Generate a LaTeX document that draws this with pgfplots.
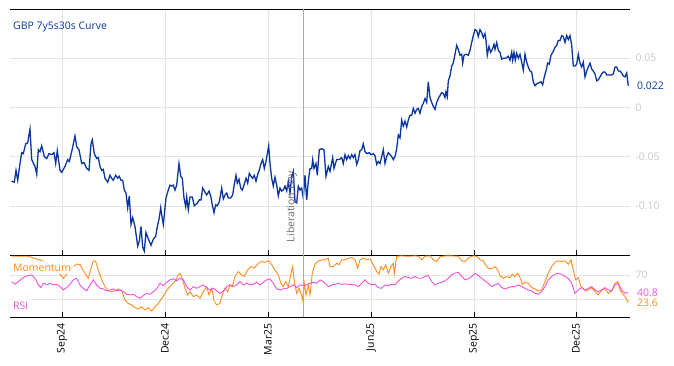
\documentclass[border=0pt]{standalone}
\usepackage{fontspec}
\setmainfont{Open Sans}
\usepackage{pgfplots}
\pgfplotsset{compat=1.18}
\definecolor{curve}{RGB}{10,53,160}
\definecolor{momc}{RGB}{255,140,26}
\definecolor{rsic}{RGB}{240,80,220}
\definecolor{gridc}{RGB}{229,229,229}
\definecolor{ticklab}{RGB}{200,200,200}
\definecolor{libline}{RGB}{170,170,170}
\definecolor{libtext}{RGB}{110,110,110}
\newcommand{\lblfont}{\fontsize{10.5}{12}\selectfont}
\pgfplotsset{panel/.style={
  scale only axis, width=620bp, xmin=10, xmax=630,
  separate axis lines,
  x axis line style={black, line width=0.8pt},
  y axis line style={draw=none},
  xtick={62,165,268,371,474,576},
  xtick pos=bottom, tick align=inside, major tick length=5bp,
  xtick style={black, line width=0.6pt},
  ytick style={draw=none},
  grid=major, major grid style={gridc, line width=0.5pt},
  yticklabel pos=right,
  tick label style={font=\lblfont},
  yticklabel style={text=ticklab, anchor=west, xshift=2bp},
  clip mode=individual,
}}
\begin{document}
\begin{tikzpicture}
\path[use as bounding box] (0,0) rectangle (674bp,366bp);
\begin{axis}[panel, at={(10bp,111bp)}, anchor=south west, height=246bp,
  ymin=-0.15, ymax=0.10,
  ytick={-0.10,-0.05,0,0.05}, yticklabels={-0.10,-0.05,0,0.05},
  xticklabels=\empty]
\addplot[curve, line width=1.3pt] coordinates {
(11.7,-0.075)(14.3,-0.076)(16,-0.064)(17.7,-0.074)(20,-0.057)(21.7,-0.046)(23.3,-0.047)(25.7,-0.037)(27.7,-0.036)(30,-0.022)(31.7,-0.053)(35,-0.060)(36.7,-0.068)(38.3,-0.043)(40,-0.045)(41.7,-0.039)(44.3,-0.050)(46.7,-0.052)(49,-0.047)(51.7,-0.048)(54,-0.046)(55.7,-0.057)(57.3,-0.044)(60,-0.064)(61.7,-0.066)(65,-0.060)(67.7,-0.053)(69.3,-0.055)(71.7,-0.045)(75,-0.029)(76.7,-0.040)(79,-0.043)(81.7,-0.057)(84,-0.056)(86.7,-0.062)(89,-0.064)(91,-0.037)(92.3,-0.033)(94.3,-0.047)(96.7,-0.052)(98.3,-0.051)(100,-0.060)(101.7,-0.064)(103.3,-0.063)(105,-0.072)(107.7,-0.076)(110,-0.069)(111.7,-0.072)(113.3,-0.074)(115.7,-0.069)(117.7,-0.072)(119.3,-0.070)(121,-0.074)(122.7,-0.074)(124.3,-0.084)(126,-0.087)(127.7,-0.102)(129.3,-0.090)(131,-0.119)(132.7,-0.112)(135,-0.121)(137.7,-0.141)(139.3,-0.136)(141,-0.121)(142.7,-0.142)(144.3,-0.146)(146,-0.127)(147.7,-0.132)(149.3,-0.136)(151,-0.140)(153.3,-0.134)(155.7,-0.131)(157.7,-0.119)(159,-0.114)(160.7,-0.102)(161.7,-0.109)(163.3,-0.119)(166,-0.092)(168.3,-0.084)(170,-0.079)(171.7,-0.080)(173.3,-0.079)(175,-0.084)(176.7,-0.079)(179,-0.057)(180.7,-0.070)(182.3,-0.072)(184,-0.092)(185.7,-0.101)(186.7,-0.091)(188.3,-0.104)(190,-0.091)(192.3,-0.091)(194.3,-0.100)(196.7,-0.098)(199.3,-0.094)(201,-0.094)(202.7,-0.082)(205,-0.086)(206.7,-0.089)(209,-0.085)(210.7,-0.090)(212.3,-0.099)(214,-0.107)(215.7,-0.099)(217.3,-0.100)(219.3,-0.096)(221.7,-0.082)(223.3,-0.093)(225,-0.089)(226.7,-0.087)(228.3,-0.092)(230.7,-0.092)(232.7,-0.089)(234,-0.080)(236,-0.069)(237.3,-0.077)(239,-0.073)(240.7,-0.082)(242.3,-0.084)(244,-0.079)(246,-0.072)(247.7,-0.077)(249.3,-0.067)(251,-0.070)(252.7,-0.072)(254.3,-0.069)(256,-0.075)(257.7,-0.068)(259.3,-0.064)(261,-0.057)(262.7,-0.053)(264.3,-0.062)(266,-0.055)(267.7,-0.045)(268.7,-0.039)(270,-0.057)(271.7,-0.072)(273.3,-0.080)(275,-0.071)(276.7,-0.079)(278.3,-0.090)(280,-0.082)(281.7,-0.085)(283.3,-0.084)(285,-0.080)(286.7,-0.085)(288.3,-0.075)(290,-0.087)(291.7,-0.070)(293.3,-0.065)(295,-0.096)(296.7,-0.097)(298.3,-0.080)(300,-0.084)(301.7,-0.082)(303.3,-0.092)(305,-0.069)(306.7,-0.094)(308.3,-0.075)(310,-0.062)(311.7,-0.062)(312.7,-0.053)(314,-0.062)(316,-0.057)(317.3,-0.069)(319.3,-0.043)(321.7,-0.042)(324,-0.043)(326,-0.070)(328.3,-0.060)(330,-0.065)(332.7,-0.051)(334,-0.062)(336.7,-0.053)(339.3,-0.053)(341.7,-0.051)(343.3,-0.057)(345,-0.048)(346.7,-0.053)(348.3,-0.049)(350,-0.052)(351.7,-0.048)(353.3,-0.051)(355,-0.048)(356.7,-0.058)(358.3,-0.053)(360,-0.044)(361.7,-0.043)(363.3,-0.037)(365,-0.045)(366.7,-0.047)(369,-0.046)(371,-0.048)(373.3,-0.047)(375,-0.049)(376.7,-0.058)(378.3,-0.055)(380,-0.057)(381.7,-0.050)(383.3,-0.043)(385,-0.057)(386.7,-0.050)(388.3,-0.046)(390,-0.048)(391.7,-0.050)(393.3,-0.053)(395,-0.050)(396.7,-0.042)(398.3,-0.028)(400,-0.031)(401.7,-0.013)(403.3,-0.019)(405,-0.014)(406.7,-0.020)(408.3,-0.013)(410,-0.008)(411.7,-0.008)(413.3,-0.001)(415,-0.006)(416.7,-0.002)(418.3,-0.001)(420,-0.006)(421.7,0.001)(423.3,0.004)(425,0.009)(426.7,0.005)(428.3,0.026)(430,0.010)(431.7,0.005)(433.3,0.001)(435,-0.002)(436.7,0.005)(438.3,0.009)(440,0.012)(441.7,0.015)(443.3,0.014)(445,0.010)(446,0.016)(447.3,0.011)(448.3,0.027)(450,0.032)(451.7,0.042)(453.3,0.045)(455,0.054)(456.7,0.063)(458.3,0.059)(460,0.053)(461.7,0.054)(462.7,0.045)(464,0.053)(466,0.054)(468.3,0.053)(470,0.058)(471.7,0.066)(473.3,0.073)(475,0.079)(476.7,0.078)(478.3,0.072)(480,0.079)(481.7,0.076)(483.3,0.071)(485,0.075)(486,0.068)(487.3,0.053)(489,0.062)(490.7,0.056)(492.3,0.059)(494,0.064)(495,0.059)(496.7,0.066)(498.3,0.058)(500,0.056)(501.7,0.049)(503.3,0.050)(505.7,0.050)(508.3,0.052)(510,0.048)(511.7,0.056)(512.7,0.048)(514,0.056)(515.3,0.048)(516.7,0.055)(518.3,0.050)(520,0.054)(521.7,0.046)(523.3,0.038)(525,0.054)(526.7,0.046)(528.3,0.041)(530,0.037)(531.7,0.036)(533.3,0.026)(535,0.022)(536.7,0.024)(539,0.025)(541,0.026)(542.7,0.023)(544.3,0.031)(546,0.037)(547.7,0.045)(549.3,0.044)(551,0.053)(553.3,0.057)(555,0.061)(556.7,0.063)(558.3,0.068)(560,0.068)(561.7,0.073)(563.3,0.072)(565,0.066)(566.7,0.073)(568.3,0.069)(570,0.073)(571.7,0.063)(573.3,0.042)(575,0.042)(576.7,0.044)(578.3,0.054)(580,0.045)(581.7,0.041)(583.3,0.046)(585,0.031)(586.7,0.037)(588.3,0.041)(590,0.045)(591.7,0.039)(593.3,0.037)(595,0.034)(596.7,0.027)(598.3,0.028)(600,0.031)(601.7,0.034)(603.3,0.036)(605,0.036)(606.7,0.033)(609.3,0.033)(611.7,0.033)(613.3,0.034)(615,0.041)(616.7,0.041)(618.3,0.037)(620,0.037)(621.7,0.035)(623.3,0.032)(625,0.031)(626.7,0.035)(628.3,0.022)};
\draw[libline, line width=0.6pt] (axis cs:303,-0.15) -- (axis cs:303,0.10);
\node[rotate=90, anchor=south west, text=libtext, font=\lblfont, inner sep=0pt] at (axis cs:297,-0.137) {Liberation Day};
\node[anchor=west, text=curve, font=\lblfont, inner sep=0pt] at (axis cs:13,0.082) {GBP 7y5s30s Curve};
\node[anchor=west, text=curve, font=\lblfont, inner sep=0pt] at (axis cs:637,0.022) {0.022};
\end{axis}
\begin{axis}[panel, at={(10bp,49bp)}, anchor=south west, height=62bp,
  ymin=0, ymax=103,
  ytick={30,70}, yticklabels={,70},
  xticklabels={Sep24,Dec24,Mar25,Jun25,Sep25,Dec25},
  xticklabel shift=3bp,
  xticklabel style={rotate=90, anchor=east, text=black}]
\addplot[momc, line width=0.9pt] coordinates {
(11.7,101)(20,101)(28,101)(30,100)(35,97)(41.7,94)(48.3,88)(55,80)(60,71)(63.3,64)(66.7,71)(71.7,82)(76.7,88)(80,87)(82.3,80)(85,72.7)(88.3,64.3)(91,81)(93.3,93.3)(95.7,92.2)(98.3,78.3)(101.7,61.7)(105,50.5)(108.3,43.3)(111.7,42.2)(115,43.3)(118.3,46.7)(121.7,43.3)(125,28.3)(128.3,22.7)(131.7,20)(135,15.5)(138.3,13.3)(141.7,17.2)(145,11.7)(148.3,15.5)(151.7,10)(155,17.2)(158.3,22.7)(161.7,31)(165,39.3)(168.3,47.7)(171.7,53.3)(175,58.8)(178.3,70)(180,72.7)(182.3,64.3)(185,47.7)(187.7,36.7)(190,42.2)(193.3,33.8)(196.7,36.7)(200,31)(203.3,42.2)(206.7,50.5)(209,36.7)(211.7,47.7)(214.3,25.5)(216.7,20)(220,22.7)(222.3,36.7)(225,47.7)(227.7,42.2)(230,53.3)(232.3,50.5)(235,67.2)(238.3,75.5)(241.7,70)(244.3,67.2)(247.7,78.3)(251,83.8)(254.3,81)(258.3,89.3)(261.7,92.2)(265,91)(269,93.3)(271.7,86.7)(275,78.3)(278.3,70)(281,56)(283.3,50.5)(285.7,58.8)(288.3,50.5)(291,72.7)(292.7,83.8)(294.3,58.8)(296.7,39.3)(299,47.7)(301,39.3)(302.7,28.3)(304.3,56)(306,36.7)(308.3,53.3)(310,36.7)(312.3,72.7)(315,88)(318.3,93)(321.7,95)(325,95)(328.3,97.7)(330,83.8)(333.3,83.8)(336.7,89.3)(339,86.7)(341.7,95)(345,95)(348.3,97.7)(351.7,98.8)(355,95)(357.7,81)(360,95)(363.3,97.7)(366.7,95)(370,96.7)(373.3,86.7)(376.7,75.5)(379,71)(381,83.8)(383.3,78.3)(385.7,86.7)(388.3,72.7)(391,83.8)(393.3,89.3)(394.3,71)(396.7,101)(401.7,101.5)(408.3,101)(415,101.5)(418.3,101)(421.7,95)(425,101)(430,101.5)(433.3,95)(436.7,92.2)(440,100)(445,101.5)(451.7,101.5)(458.3,101)(461.7,93.3)(465,92.2)(468.3,97.7)(471.7,101)(475,101.5)(477.7,100)(480,95)(483.3,93.3)(485.7,86.7)(488.3,81)(491.7,80)(495,83.8)(497.7,78.3)(500,68.8)(503.3,64.3)(506.7,67.2)(510,65.5)(512.3,71)(515,67.2)(517.7,72.7)(520,65.5)(522.3,54.3)(525,57.7)(528.3,56)(531.7,48.8)(535,46.7)(538.3,43.3)(541.7,45)(545,58.8)(548.3,72.7)(551.7,83.8)(555,91)(558.3,93.3)(561.7,92.2)(565,93.3)(568.3,87.7)(571,95)(573.3,78.3)(575.7,61.7)(578.3,65.5)(581,50.5)(583.3,46.7)(585.7,43.3)(588.3,45)(591.7,48.8)(595,42.2)(598.3,36.7)(601.7,45)(605,46.7)(608.3,39.3)(611.7,43.3)(615,56)(617.7,58.8)(620,45)(622.3,39.3)(625,33.8)(628.3,23.6)};
\addplot[rsic, line width=0.9pt] coordinates {
(11.7,58.8)(15,54.3)(18.3,58.8)(21.7,63.3)(25,67.2)(28.3,68.8)(31.7,70)(35,64.3)(38.3,53.3)(41,48.8)(43.3,56)(46.7,53.3)(50,56)(53.3,53.3)(56.7,54.3)(60,50.5)(63.3,45)(66.7,48.8)(70,54.3)(73.3,61.7)(76.7,64.3)(80,53.3)(83.3,47.7)(86.7,43.3)(90,53.3)(93.3,61.7)(96.7,53.3)(100,47.7)(103.3,46.7)(106.7,43.3)(110,45)(113.3,46.7)(116.7,43.3)(120,45)(123.3,42.2)(126.7,37.7)(130,36.7)(133.3,37.7)(136.7,33.8)(140,31)(143.3,35.5)(146.7,39.3)(150,37.7)(153.3,42.2)(156.7,46.7)(160,56)(163.3,52.2)(166.7,57.7)(170,61.7)(173.3,63.3)(176.7,60)(180,64.3)(183.3,61.7)(186.7,50.5)(190,45)(193.3,50.5)(196.7,47.7)(200,50.5)(203.3,53.3)(206.7,48.8)(210,45)(213.3,47.7)(216.7,43.3)(220,39.3)(223.3,43.3)(226.7,50.5)(230,53.3)(233.3,50.5)(236.7,53.3)(240,58.8)(243.3,53.3)(246.7,56)(250,53.3)(253.3,54.3)(256.7,57.7)(260,53.3)(263.3,57.7)(266.7,61.7)(270,63.3)(273.3,56)(276.7,46.7)(280,45)(283.3,46.7)(286.7,47.7)(290,50.5)(293.3,53.3)(296.7,48.8)(300,53.3)(303.3,52.2)(306.7,53.3)(310,56)(313.3,57.7)(316.7,56)(320,61.7)(323.3,58.8)(325,56)(328.3,50.5)(331.7,53.3)(335,54.3)(338.3,56)(341.7,54.3)(345,55)(348.3,54.3)(351.7,54.3)(355,53.3)(358.3,50.5)(361.7,56)(365,61.7)(368.3,56)(371.7,53.3)(375,54.3)(378.3,48.8)(381.7,47.7)(385,53.3)(388.3,52.2)(391.7,54.3)(395,53.3)(398.3,60)(401.7,64.3)(405,67.2)(408.3,65.5)(411.7,64.3)(415,67.2)(418.3,64.3)(421.7,64.3)(425,67.2)(428.3,68.8)(431.7,58.8)(435,53.3)(438.3,56)(441.7,57.7)(445,60)(448.3,64.3)(451.7,70)(455,72.7)(458.3,74.3)(461.7,67.2)(465,61.7)(468.3,63.3)(471.7,67.2)(475,72.7)(478.3,68.8)(481.7,64.3)(485,60)(488.3,56)(491.7,50.5)(495,53.3)(498.3,56)(501.7,48.8)(505,46.7)(508.3,48.8)(511.7,50.5)(515,50.5)(518.3,53.3)(521.7,50.5)(525,47.7)(528.3,45)(531.7,43.3)(535,39.3)(538.3,37.7)(541.7,42.2)(545,50.5)(548.3,61.7)(551.7,67.2)(555,71)(558.3,72.7)(561.7,71)(565,67.2)(568.3,64.3)(571.7,56)(575,39.3)(578.3,45)(581.7,48.8)(585,45)(588.3,47.7)(591.7,50.5)(595,45)(598.3,42.2)(601.7,45)(605,48.8)(608.3,45)(611.7,43.3)(615,53.3)(618.3,56)(621.7,45)(625,39.3)(628.3,40.8)};
\draw[libline, line width=0.6pt] (axis cs:303,0) -- (axis cs:303,103);
\node[anchor=west, text=momc, font=\lblfont, fill=white, fill opacity=0.8, text opacity=1, inner sep=3bp] at (axis cs:10,82) {Momentum};
\node[anchor=west, text=rsic, font=\lblfont, fill=white, fill opacity=0.8, text opacity=1, inner sep=3bp] at (axis cs:10,18.8) {RSI};
\node[anchor=west, text=rsic, font=\lblfont, inner sep=0pt] at (axis cs:637,40.8) {40.8};
\node[anchor=west, text=momc, font=\lblfont, inner sep=0pt] at (axis cs:637,23.6) {23.6};
\end{axis}
\end{tikzpicture}
\end{document}
